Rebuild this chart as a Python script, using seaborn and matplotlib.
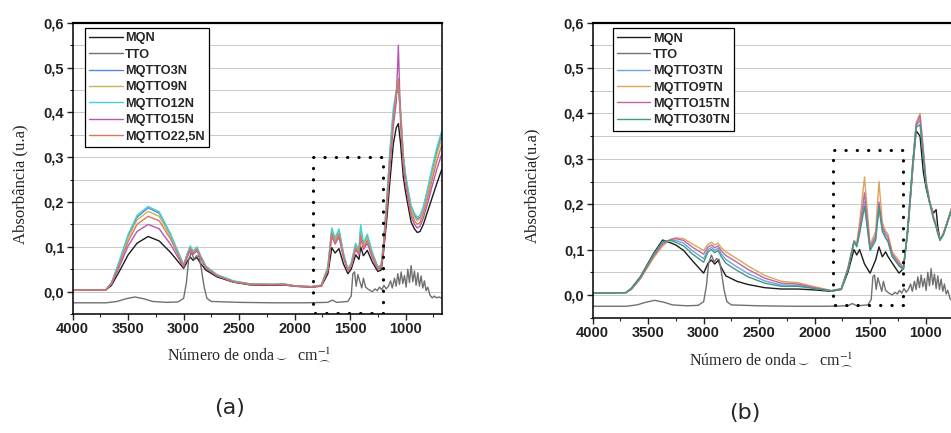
import matplotlib
matplotlib.use("Agg")
import matplotlib.pyplot as plt
import matplotlib.patches as mpatches
from matplotlib.ticker import MultipleLocator
import seaborn as sns

sns.set_style("white")
plt.rcParams['font.family'] = ['Liberation Sans', 'DejaVu Sans']
plt.rcParams['mathtext.fontset'] = 'stix'

# -----------------------------
# TTO spectrum (same sample in both panels)
# -----------------------------
tto_wn = [4000, 3700, 3600, 3520, 3440, 3360, 3280, 3150, 3050, 3000, 2975, 2955, 2930, 2905,
          2885, 2860, 2840, 2815, 2790, 2750, 2500, 2200, 1900, 1700, 1660, 1620, 1520, 1490,
          1475, 1460, 1445, 1430, 1415, 1395, 1380, 1360, 1330, 1300, 1275, 1255, 1235, 1215,
          1195, 1175, 1155, 1135, 1120, 1100, 1085, 1070, 1055, 1040, 1025, 1010, 995, 980,
          965, 950, 935, 920, 905, 890, 875, 860, 845, 830, 815, 800, 780, 760, 740, 720, 700, 680]
tto_abs = [-0.025, -0.025, -0.022, -0.016, -0.012, -0.016, -0.022, -0.024, -0.023, -0.015, 0.020,
           0.070, 0.088, 0.072, 0.080, 0.078, 0.050, 0.010, -0.015, -0.022, -0.024, -0.025, -0.025,
           -0.024, -0.019, -0.024, -0.022, -0.010, 0.040, 0.044, 0.012, 0.038, 0.025, 0.008, 0.030,
           0.010, 0.004, 0.000, 0.006, 0.002, 0.010, 0.004, 0.014, 0.006, 0.012, 0.024, 0.008,
           0.030, 0.012, 0.040, 0.016, 0.044, 0.018, 0.036, 0.010, 0.050, 0.020, 0.058, 0.022,
           0.046, 0.014, 0.042, 0.012, 0.035, 0.008, 0.024, 0.002, 0.010, -0.008, -0.014, -0.010,
           -0.014, -0.012, -0.014]

# -----------------------------
# Panel (a)
# -----------------------------
wn_a = [4000, 3700, 3650, 3580, 3500, 3420, 3320, 3220, 3120, 3000, 2965, 2940, 2915, 2880,
        2850, 2800, 2700, 2550, 2400, 2200, 2100, 2000, 1850, 1760, 1700, 1665, 1635, 1600,
        1560, 1520, 1490, 1450, 1420, 1405, 1380, 1345, 1300, 1250, 1220, 1200, 1170, 1140,
        1110, 1085, 1065, 1045, 1020, 1000, 980, 950, 920, 895, 870, 840, 800, 760, 720, 675]
mqn_a = [0.003, 0.004, 0.014, 0.045, 0.082, 0.108, 0.123, 0.113, 0.088, 0.052, 0.068, 0.077,
         0.070, 0.076, 0.064, 0.048, 0.033, 0.021, 0.015, 0.014, 0.015, 0.012, 0.010, 0.012,
         0.040, 0.098, 0.086, 0.096, 0.062, 0.040, 0.050, 0.082, 0.072, 0.100, 0.080, 0.092,
         0.066, 0.045, 0.048, 0.085, 0.160, 0.250, 0.330, 0.365, 0.375, 0.330, 0.255, 0.222,
         0.195, 0.155, 0.140, 0.132, 0.134, 0.150, 0.180, 0.210, 0.240, 0.272]
mqtto3n = [0.003, 0.004, 0.019, 0.066, 0.124, 0.166, 0.187, 0.175, 0.128, 0.059, 0.085, 0.100,
           0.089, 0.098, 0.080, 0.056, 0.037, 0.023, 0.017, 0.016, 0.017, 0.013, 0.011, 0.014,
           0.054, 0.138, 0.117, 0.136, 0.084, 0.049, 0.062, 0.104, 0.090, 0.138, 0.104, 0.124,
           0.086, 0.054, 0.058, 0.102, 0.200, 0.312, 0.400, 0.440, 0.450, 0.398, 0.300, 0.258,
           0.228, 0.188, 0.170, 0.162, 0.166, 0.186, 0.226, 0.270, 0.312, 0.350]
mqtto9n = [0.003, 0.004, 0.019, 0.064, 0.120, 0.160, 0.179, 0.168, 0.124, 0.058, 0.084, 0.098,
           0.088, 0.097, 0.079, 0.055, 0.037, 0.023, 0.017, 0.016, 0.017, 0.013, 0.011, 0.014,
           0.053, 0.136, 0.115, 0.134, 0.083, 0.048, 0.061, 0.102, 0.088, 0.132, 0.102, 0.120,
           0.084, 0.053, 0.057, 0.100, 0.196, 0.305, 0.395, 0.450, 0.470, 0.400, 0.298, 0.255,
           0.225, 0.184, 0.166, 0.158, 0.162, 0.182, 0.220, 0.262, 0.304, 0.342]
mqtto12n = [0.003, 0.004, 0.020, 0.068, 0.128, 0.170, 0.190, 0.178, 0.130, 0.060, 0.086, 0.102,
            0.090, 0.100, 0.082, 0.057, 0.038, 0.024, 0.017, 0.016, 0.017, 0.013, 0.011, 0.014,
            0.056, 0.142, 0.120, 0.140, 0.086, 0.050, 0.064, 0.108, 0.092, 0.150, 0.108, 0.128,
            0.088, 0.055, 0.060, 0.105, 0.205, 0.320, 0.410, 0.445, 0.460, 0.405, 0.305, 0.262,
            0.232, 0.192, 0.175, 0.166, 0.170, 0.190, 0.232, 0.278, 0.320, 0.358]
mqtto15n = [0.003, 0.004, 0.017, 0.055, 0.102, 0.134, 0.150, 0.140, 0.106, 0.055, 0.078, 0.092,
            0.083, 0.091, 0.075, 0.052, 0.035, 0.022, 0.016, 0.015, 0.016, 0.012, 0.010, 0.013,
            0.047, 0.124, 0.106, 0.122, 0.076, 0.045, 0.056, 0.094, 0.082, 0.122, 0.094, 0.108,
            0.076, 0.050, 0.053, 0.092, 0.180, 0.282, 0.370, 0.420, 0.550, 0.375, 0.280, 0.240,
            0.210, 0.168, 0.150, 0.142, 0.146, 0.164, 0.198, 0.236, 0.272, 0.306]
mqtto225n = [0.003, 0.004, 0.018, 0.060, 0.112, 0.150, 0.168, 0.158, 0.118, 0.057, 0.082, 0.096,
             0.086, 0.095, 0.078, 0.054, 0.036, 0.022, 0.016, 0.016, 0.016, 0.013, 0.011, 0.013,
             0.050, 0.130, 0.110, 0.128, 0.080, 0.047, 0.058, 0.098, 0.085, 0.125, 0.098, 0.114,
             0.080, 0.052, 0.055, 0.096, 0.188, 0.295, 0.385, 0.440, 0.475, 0.392, 0.290, 0.248,
             0.218, 0.176, 0.158, 0.150, 0.154, 0.174, 0.210, 0.250, 0.290, 0.326]

names_a = ["MQN", "TTO", "MQTTO3N", "MQTTO9N", "MQTTO12N", "MQTTO15N", "MQTTO22,5N"]
colors_a = ["#1c1c1c", "#707070", "#5b86d2", "#c9b25e", "#45cfd6", "#b457b0", "#d4795f"]

# -----------------------------
# Panel (b)
# -----------------------------
wn_b = [4000, 3700, 3650, 3570, 3450, 3370, 3300, 3250, 3180, 3100, 3000, 2960, 2930, 2900,
        2870, 2840, 2800, 2700, 2600, 2450, 2300, 2150, 2000, 1850, 1760, 1700, 1645, 1620,
        1595, 1550, 1500, 1450, 1420, 1390, 1360, 1340, 1300, 1240, 1200, 1160, 1115, 1085,
        1050, 1020, 995, 965, 930, 905, 890, 870, 840, 800, 760, 720, 675]
mqn_b = [0.004, 0.005, 0.015, 0.040, 0.092, 0.121, 0.115, 0.110, 0.098, 0.075, 0.048, 0.070,
         0.077, 0.068, 0.076, 0.060, 0.042, 0.030, 0.023, 0.016, 0.013, 0.013, 0.011, 0.008,
         0.012, 0.050, 0.100, 0.088, 0.100, 0.068, 0.048, 0.077, 0.106, 0.084, 0.095, 0.085,
         0.070, 0.048, 0.058, 0.140, 0.280, 0.362, 0.350, 0.270, 0.235, 0.205, 0.180, 0.188,
         0.150, 0.122, 0.135, 0.165, 0.195, 0.225, 0.255]
mqtto3tn = [0.004, 0.005, 0.014, 0.038, 0.088, 0.115, 0.121, 0.120, 0.114, 0.097, 0.080, 0.100,
            0.105, 0.098, 0.103, 0.090, 0.078, 0.062, 0.047, 0.031, 0.022, 0.021, 0.015, 0.009,
            0.013, 0.056, 0.115, 0.108, 0.138, 0.205, 0.100, 0.125, 0.190, 0.145, 0.128, 0.120,
            0.086, 0.066, 0.057, 0.145, 0.285, 0.372, 0.385, 0.310, 0.245, 0.206, 0.170, 0.150,
            0.136, 0.121, 0.133, 0.162, 0.192, 0.222, 0.252]
mqtto9tn = [0.004, 0.005, 0.012, 0.035, 0.082, 0.108, 0.122, 0.126, 0.124, 0.112, 0.098, 0.112,
            0.116, 0.110, 0.114, 0.104, 0.095, 0.080, 0.064, 0.043, 0.030, 0.027, 0.018, 0.010,
            0.014, 0.060, 0.120, 0.115, 0.160, 0.260, 0.110, 0.140, 0.250, 0.160, 0.140, 0.135,
            0.095, 0.075, 0.060, 0.150, 0.290, 0.380, 0.400, 0.320, 0.250, 0.210, 0.175, 0.155,
            0.140, 0.123, 0.135, 0.165, 0.195, 0.225, 0.255]
mqtto15tn = [0.004, 0.005, 0.013, 0.037, 0.086, 0.112, 0.122, 0.124, 0.120, 0.105, 0.090, 0.106,
             0.110, 0.104, 0.108, 0.097, 0.087, 0.072, 0.056, 0.037, 0.026, 0.024, 0.016, 0.009,
             0.013, 0.058, 0.117, 0.110, 0.145, 0.225, 0.105, 0.130, 0.205, 0.150, 0.135, 0.128,
             0.090, 0.070, 0.058, 0.148, 0.288, 0.375, 0.395, 0.315, 0.248, 0.208, 0.172, 0.152,
             0.138, 0.122, 0.134, 0.163, 0.193, 0.223, 0.253]
mqtto30tn = [0.004, 0.005, 0.014, 0.039, 0.090, 0.118, 0.120, 0.116, 0.108, 0.090, 0.072, 0.095,
             0.100, 0.093, 0.098, 0.084, 0.070, 0.054, 0.040, 0.026, 0.019, 0.019, 0.014, 0.009,
             0.013, 0.055, 0.118, 0.106, 0.135, 0.195, 0.098, 0.120, 0.195, 0.140, 0.125, 0.118,
             0.084, 0.064, 0.056, 0.150, 0.295, 0.370, 0.375, 0.300, 0.242, 0.204, 0.168, 0.150,
             0.135, 0.120, 0.132, 0.161, 0.191, 0.221, 0.251]

names_b = ["MQN", "TTO", "MQTTO3TN", "MQTTO9TN", "MQTTO15TN", "MQTTO30TN"]
colors_b = ["#1c1c1c", "#707070", "#6fa4e0", "#d9a55a", "#c064a8", "#3f9a82"]

# axis ticks
x_ticks = [4000, 3500, 3000, 2500, 2000, 1500, 1000]
y_ticks = [0.0, 0.1, 0.2, 0.3, 0.4, 0.5, 0.6]
y_tick_labels = ["0,0", "0,1", "0,2", "0,3", "0,4", "0,5", "0,6"]

# dotted boxes: (left wn, right wn, bottom, top)
box_a = (1835, 1205, -0.047, 0.30)
box_b = (1834, 1200, -0.022, 0.32)

serif = ['Liberation Serif', 'DejaVu Serif']
xlabel_txt = r"Número de onda$_{\smile}$  cm$^{-1}_{\frown}$"


def style_axes(ax, ylabel, xlab_pos, ylab_pos):
    ax.set_xlim(4000, 675)
    ax.set_ylim(-0.05, 0.6)
    ax.set_xticks(x_ticks)
    ax.set_xticklabels([str(t) for t in x_ticks], fontsize=10.5, fontweight='bold')
    ax.xaxis.set_minor_locator(MultipleLocator(250))
    ax.set_yticks(y_ticks)
    ax.set_yticklabels(y_tick_labels, fontsize=10.5, fontweight='bold')
    ax.yaxis.set_minor_locator(MultipleLocator(0.05))
    ax.tick_params(which='major', direction='out', length=4, width=1, pad=2,
                   bottom=True, left=True, top=False, right=False, colors='#222222')
    ax.tick_params(which='minor', direction='out', length=2.5, width=0.8,
                   bottom=True, left=True, top=False, right=False)
    ax.grid(axis='y', which='both', color='#c9c9c9', lw=0.7)
    ax.set_axisbelow(True)
    for sp in ax.spines.values():
        sp.set_color('black')
        sp.set_linewidth(1.1)
    ax.spines['top'].set_linewidth(1.6)
    ax.set_xlabel(xlabel_txt, family=serif, fontsize=11.5)
    ax.xaxis.set_label_coords(*xlab_pos)
    ax.xaxis.label.set_va('center')
    ax.set_ylabel(ylabel, family=serif, fontsize=12)
    ax.yaxis.set_label_coords(*ylab_pos)
    ax.yaxis.label.set_va('center')


def add_box(ax, box):
    left, right, bottom, top = box
    rect = mpatches.Rectangle((right, bottom), left - right, top - bottom, fill=False,
                              edgecolor='black', lw=2.2, linestyle=(0, (0.1, 3.6)),
                              capstyle='round', zorder=5)
    ax.add_patch(rect)


fig = plt.figure(figsize=(9.51, 4.33), dpi=100)
ax_a = fig.add_axes([0.0764, 0.2748, 0.388, 0.6727])
ax_b = fig.add_axes([0.6232, 0.2665, 0.388, 0.681])

# panel (a)
series_a = [(wn_a, mqn_a), (tto_wn, tto_abs), (wn_a, mqtto3n), (wn_a, mqtto9n),
            (wn_a, mqtto12n), (wn_a, mqtto15n), (wn_a, mqtto225n)]
for (wn, vals), name, c in zip(series_a, names_a, colors_a):
    sns.lineplot(x=wn, y=vals, ax=ax_a, color=c, lw=1.0, label=name, sort=False, estimator=None)

# panel (b)
series_b = [(wn_b, mqn_b), (tto_wn, tto_abs), (wn_b, mqtto3tn), (wn_b, mqtto9tn),
            (wn_b, mqtto15tn), (wn_b, mqtto30tn)]
for (wn, vals), name, c in zip(series_b, names_b, colors_b):
    sns.lineplot(x=wn, y=vals, ax=ax_b, color=c, lw=1.0, label=name, sort=False, estimator=None)

style_axes(ax_a, "Absorbância (u.a)", (0.478, -0.141), (-0.143, 0.446))
style_axes(ax_b, "Absorbância(u.a)", (0.483, -0.144), (-0.164, 0.45))
add_box(ax_a, box_a)
add_box(ax_b, box_b)

for ax, anchor in [(ax_a, (0.033, 0.982)), (ax_b, (0.054, 0.982))]:
    leg = ax.legend(loc='upper left', bbox_to_anchor=anchor, borderaxespad=0,
                    prop={'family': ['Liberation Sans', 'DejaVu Sans'], 'size': 9.2,
                          'weight': 'bold'},
                    frameon=True, fancybox=False, framealpha=1, edgecolor='black',
                    handlelength=2.6, handletextpad=0.2, labelspacing=0.34, borderpad=0.35)
    leg.get_frame().set_linewidth(0.9)

fig.text(0.2413, 0.0577, "(a)", fontsize=16, family='DejaVu Sans', ha='center', va='center')
fig.text(0.7834, 0.0462, "(b)", fontsize=16, family='DejaVu Sans', ha='center', va='center')

fig.savefig("out.png", dpi=100)
